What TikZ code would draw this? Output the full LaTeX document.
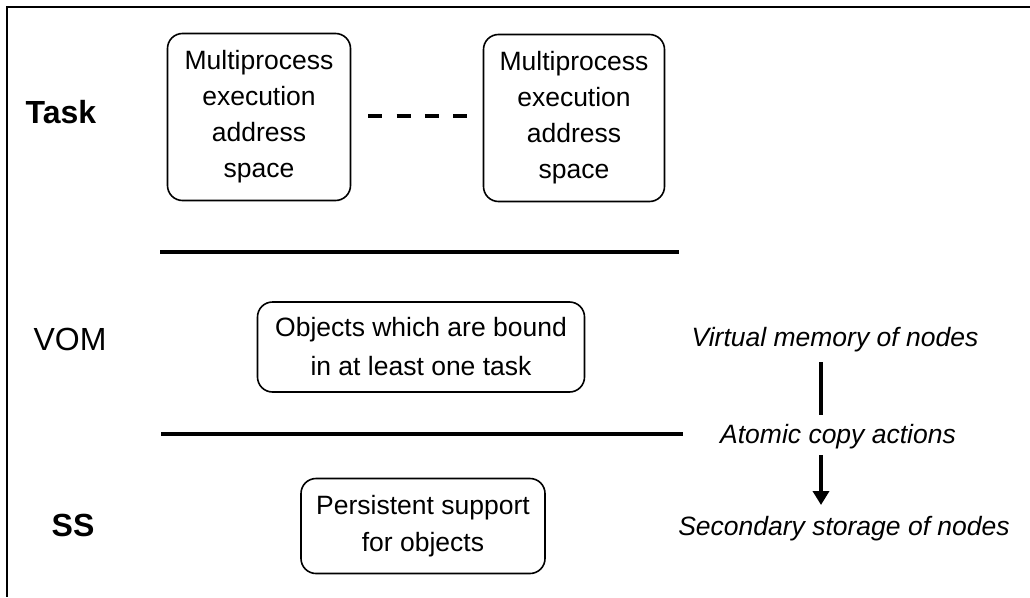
\documentclass[tikz,border=0pt]{standalone}
\usepackage{fontspec}
\setmainfont{Liberation Sans}
\usetikzlibrary{arrows.meta}
\begin{document}
\begin{tikzpicture}[x=1pt,y=-1pt,
  box/.style={draw,line width=1.6pt,rounded corners=15pt,align=center,inner sep=0pt,
    font=\fontsize{26.5}{36}\selectfont},
  layer/.style={font=\fontsize{32}{36}\selectfont},
  note/.style={font=\fontsize{26.5}{32}\selectfont\itshape,inner sep=0pt},
  rule/.style={line width=4pt},
  frame/.style={line width=1.8pt}]
\useasboundingbox (0,0) rectangle (1030,597);

% outer frame: top and left edges only
\draw[frame] (1030,7) -- (7,7) -- (7,597);

% layer names
\node[layer,font=\fontsize{32}{36}\selectfont\bfseries] (task) at (61,112) {Task};
\node[layer] (vom) at (70,339) {VOM};
\node[layer,font=\fontsize{32}{36}\selectfont\bfseries] (ss) at (73,525) {SS};

% task layer
\node[box,minimum width=183pt,minimum height=167pt] (as1) at (259,117)
  {Multiprocess\\execution\\address\\space};
\node[box,minimum width=181pt,minimum height=167pt] (as2) at (574,118)
  {Multiprocess\\execution\\address\\space};
\draw[rule,dash pattern=on 14pt off 14.3pt,shorten <=17pt,shorten >=16pt]
  (as1.east |- 0,116) -- (as2.west |- 0,116);

% separators
\coordinate (s1a) at (160,252);
\coordinate (s1b) at (679,252);
\coordinate (s2a) at (161,434);
\coordinate (s2b) at (683,434);
\draw[rule] (s1a) -- (s1b);
\draw[rule] (s2a) -- (s2b);

% VOM layer
\node[box,font=\fontsize{26.5}{39}\selectfont,minimum width=327pt,minimum height=90pt] (objs) at (421,347)
  {Objects which are bound\\in at least one task};

% SS layer
\node[box,font=\fontsize{26.5}{37}\selectfont,minimum width=244pt,minimum height=95pt] (pers) at (423,526)
  {Persistent support\\for objects};

% right-hand column
\node[note] (vm) at (835,340) {Virtual memory of nodes};
\node[note] (ac) at (838,437) {Atomic copy actions};
\node[note] (sec) at (844,529) {Secondary storage of nodes};

% copy path between the two storage levels
\coordinate (vmbot) at (821,362);
\coordinate (actop) at (821,415);
\coordinate (acbot) at (821,455);
\coordinate (sectop) at (821,505);
\draw[line width=4pt] (vmbot) -- (actop);
\draw[line width=4pt,-{Triangle[width=16pt,length=14pt]}] (acbot) -- (sectop);
\end{tikzpicture}
\end{document}
